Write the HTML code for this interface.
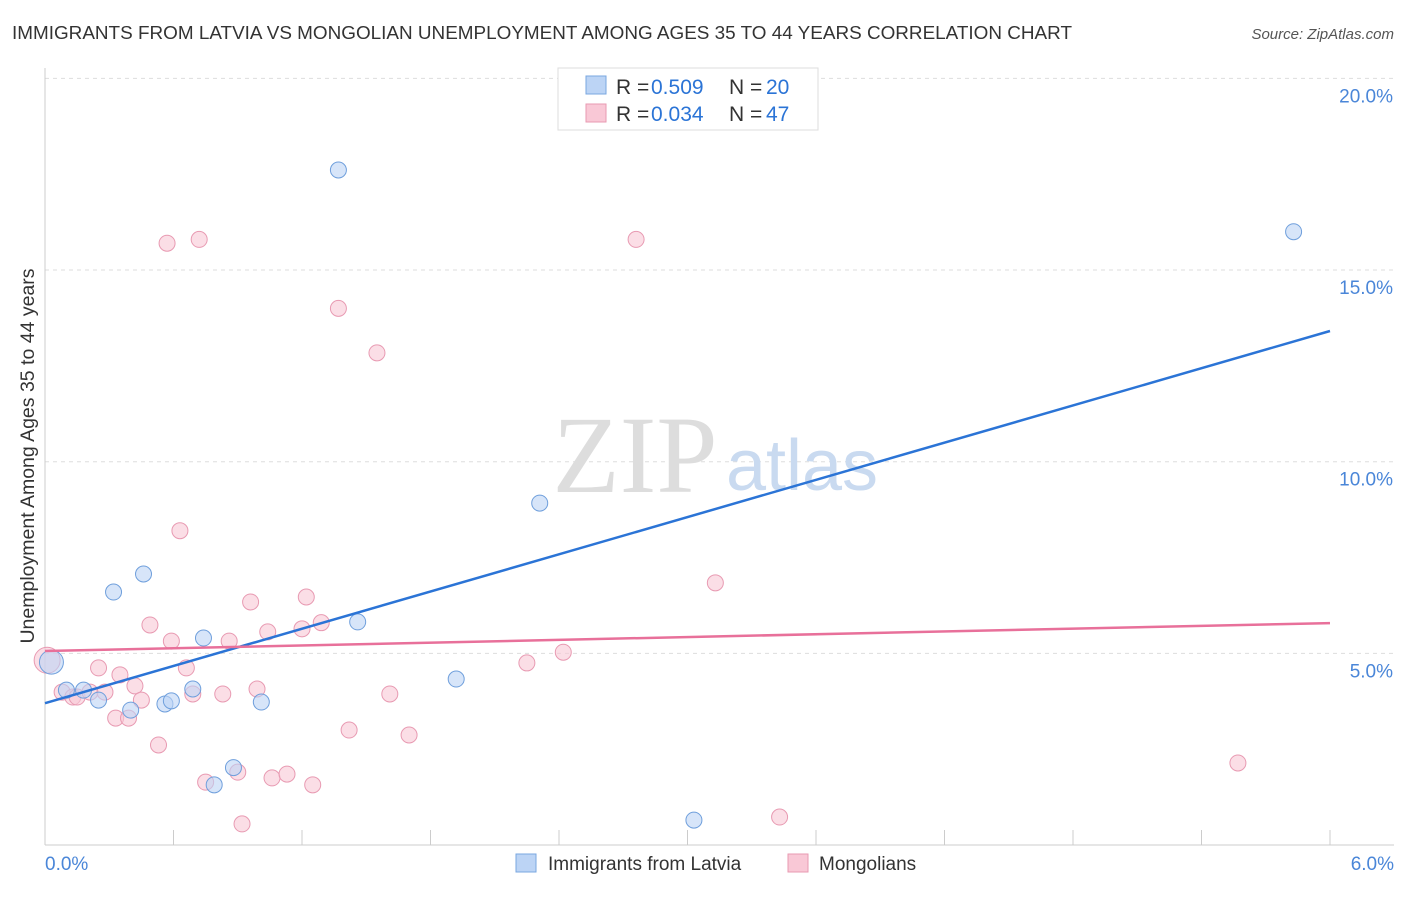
<!DOCTYPE html>
<html><head><meta charset="utf-8"><style>
body{margin:0;background:#fff;font-family:"Liberation Sans",sans-serif;}
</style></head><body>
<svg width="1406" height="892" xmlns="http://www.w3.org/2000/svg">
<text x="12" y="39" font-size="18.5" fill="#333" textLength="1060" lengthAdjust="spacingAndGlyphs">IMMIGRANTS FROM LATVIA VS MONGOLIAN UNEMPLOYMENT AMONG AGES 35 TO 44 YEARS CORRELATION CHART</text>
<text x="1394" y="39" font-size="15" fill="#555" font-style="italic" text-anchor="end">Source: ZipAtlas.com</text>
<g id="grid"></g>
<text x="635" y="492" font-size="110" fill="#ddd" font-family="Liberation Serif" text-anchor="middle">ZIP</text>
<text x="802" y="490" font-size="72" fill="#c9daf0" text-anchor="middle">atlas</text>
<g id="marks"></g>
<text transform="translate(34,456) rotate(-90)" font-size="19.5" fill="#333" text-anchor="middle">Unemployment Among Ages 35 to 44 years</text>
<text x="45" y="870" font-size="19" fill="#4a86d8">0.0%</text>
<text x="1394" y="870" font-size="19" fill="#4a86d8" text-anchor="end">6.0%</text>
<g>
<rect x="558" y="68" width="260" height="62" fill="#fff" stroke="#ddd"/>
<rect x="586" y="76" width="20" height="18" fill="#bcd4f5" stroke="#7aa7e0"/>
<rect x="586" y="104" width="20" height="18" fill="#f9c8d6" stroke="#e89ab2"/>
<text x="616" y="94" font-size="21" fill="#333">R =</text><text x="651" y="94" font-size="21" fill="#2b74d6">0.509</text>
<text x="729" y="94" font-size="21" fill="#333">N =</text><text x="766" y="94" font-size="21" fill="#2b74d6">20</text>
<text x="616" y="121" font-size="21" fill="#333">R =</text><text x="651" y="121" font-size="21" fill="#2b74d6">0.034</text>
<text x="729" y="121" font-size="21" fill="#333">N =</text><text x="766" y="121" font-size="21" fill="#2b74d6">47</text>
</g>
<g>
<rect x="516" y="854" width="20" height="18" fill="#bcd4f5" stroke="#7aa7e0"/>
<text x="548" y="870" font-size="19" fill="#333">Immigrants from Latvia</text>
<rect x="788" y="854" width="20" height="18" fill="#f9c8d6" stroke="#e89ab2"/>
<text x="819" y="870" font-size="19" fill="#333">Mongolians</text>
</g>
</svg>
<script>
const yTicks=[5,10,15,20];
const yTickLabels=["5.0%","10.0%","15.0%","20.0%"];
const blueX=[0.03,0.1,0.18,0.25,0.32,0.4,0.46,0.56,0.59,0.69,0.74,0.88,0.79,1.01,1.37,1.46,1.92,2.31,3.03,5.83];
const blueY=[4.77,4.04,4.04,3.78,6.6,3.52,7.07,3.68,3.76,4.07,5.4,2.02,1.57,3.73,17.61,5.82,4.33,8.92,0.65,16.0];
const pinkX=[0.01,0.08,0.13,0.15,0.21,0.25,0.28,0.33,0.35,0.39,0.42,0.45,0.49,0.53,0.57,0.59,0.63,0.66,0.69,0.72,0.75,0.83,0.86,0.90,0.92,0.96,0.99,1.04,1.06,1.13,1.2,1.22,1.25,1.29,1.37,1.42,1.55,1.61,1.70,2.25,2.42,2.76,3.13,3.43,5.57];
const pinkY=[4.82,3.99,3.86,3.86,3.99,4.62,3.99,3.31,4.44,3.31,4.15,3.78,5.74,2.61,15.7,5.32,8.2,4.62,3.94,15.8,1.64,3.94,5.32,1.9,0.55,6.34,4.07,5.56,1.75,1.85,5.64,6.47,1.57,5.8,14.0,3.0,12.84,3.94,2.87,4.75,5.03,15.8,6.84,0.73,2.14];
const blueLine=[3.7,13.41];
const pinkLine=[5.06,5.79];
const X=v=>45+v/6*1285, Y=v=>845-v*38.33;
const ns="http://www.w3.org/2000/svg";
function mk(p,t,a){const e=document.createElementNS(ns,t);for(const k in a)e.setAttribute(k,a[k]);p.appendChild(e);return e;}
const g=document.getElementById('grid');
yTicks.forEach((t,i)=>{
 const l=mk(g,'line',{x1:45,x2:1394,y1:Y(t),y2:Y(t),stroke:'#ddd','stroke-dasharray':'4,4'});
 
 
 const tx=mk(g,'text',{x:1393,y:Y(t)+24,'font-size':19,fill:'#4a86d8','text-anchor':'end'});
 tx.textContent=yTickLabels[i];
 
 
});
const ax=mk(g,'line',{x1:45,x2:45,y1:68,y2:845,stroke:'#ccc'});


const bx=mk(g,'line',{x1:45,x2:1394,y1:845,y2:845,stroke:'#ccc'});


for(let i=0;i<=10;i++){const t=mk(g,'line',{x1:X(i*0.6),x2:X(i*0.6),y1:830,y2:845,stroke:'#ccc'});
 
 }
const m=document.getElementById('marks');
pinkX.forEach((x,i)=>{const c=mk(m,'circle',{cx:X(x),cy:Y(pinkY[i]),r:i===0?13:8,fill:'#f9c8d6','fill-opacity':0.6,stroke:'#e89ab2'});
 
 });
blueX.forEach((x,i)=>{const c=mk(m,'circle',{cx:X(x),cy:Y(blueY[i]),r:i===0?12:8,fill:'#bcd4f5','fill-opacity':0.6,stroke:'#6f9fdc'});
 
 });
const bl=mk(m,'line',{x1:X(0),x2:X(6),y1:Y(blueLine[0]),y2:Y(blueLine[1]),stroke:'#2b74d6','stroke-width':2.5});


const pl=mk(m,'line',{x1:X(0),x2:X(6),y1:Y(pinkLine[0]),y2:Y(pinkLine[1]),stroke:'#e8709a','stroke-width':2.5});


</script>
</body></html>
